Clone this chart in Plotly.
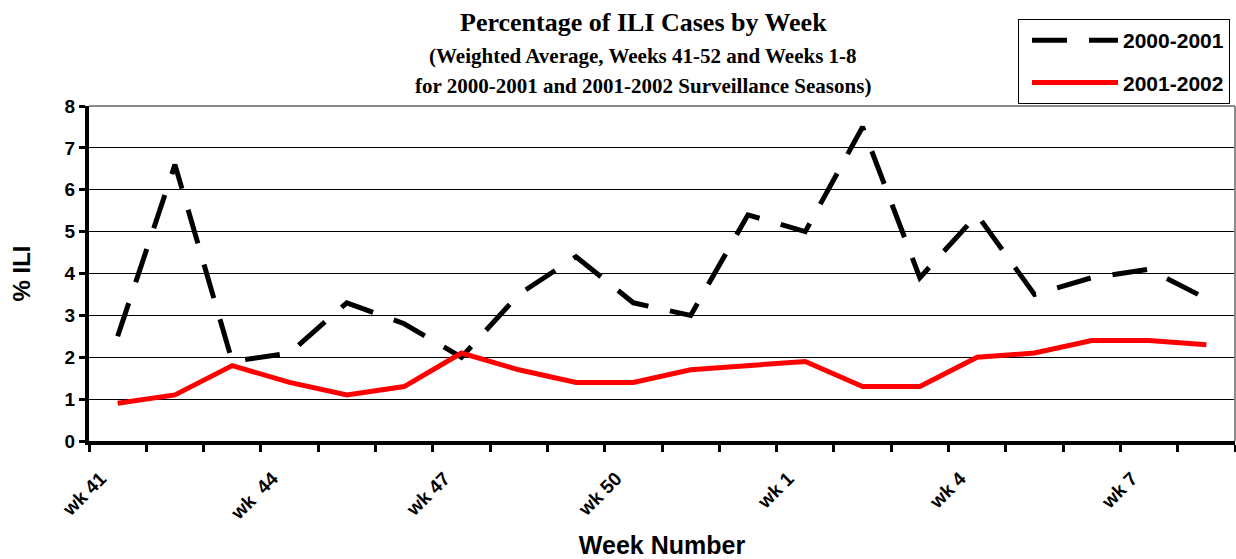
import plotly.graph_objects as go

weeks = ["wk 41", "wk 42", "wk 43", "wk 44", "wk 45", "wk 46", "wk 47", "wk 48", "wk 49", "wk 50",
         "wk 51", "wk 52", "wk 1", "wk 2", "wk 3", "wk 4", "wk 5", "wk 6", "wk 7", "wk 8"]
tick_labels = ["wk 41", "", "", "wk \u00a044", "", "", "wk 47", "", "", "wk 50",
               "", "", "wk 1", "", "", "wk 4", "", "", "wk 7", ""]
season_2000 = [2.5, 6.6, 1.9, 2.1, 3.3, 2.8, 2.0, 3.5, 4.4, 3.3,
               3.0, 5.4, 5.0, 7.5, 3.9, 5.4, 3.5, 3.9, 4.1, 3.4]
season_2001 = [0.9, 1.1, 1.8, 1.4, 1.1, 1.3, 2.1, 1.7, 1.4, 1.4,
               1.7, 1.8, 1.9, 1.3, 1.3, 2.0, 2.1, 2.4, 2.4, 2.3]
y_ticks = [0, 1, 2, 3, 4, 5, 6, 7, 8]

AR = "Liberation Sans, Arial, sans-serif"
TR = "Liberation Serif, Times New Roman, serif"

fig = go.Figure()
fig.add_trace(go.Scatter(x=weeks, y=season_2000, mode="lines", name="2000-2001",
                         legendgroup="a",
                         line=dict(color="black", width=5, dash="35px,22px")))
fig.add_trace(go.Scatter(x=weeks, y=season_2001, mode="lines", name="2001-2002",
                         legendgroup="b",
                         line=dict(color="#ff0000", width=5)))

W, H = 1236, 559
L, R, T, B = 89, 1, 106, 118
pw, ph = W - L - R, H - T - B

def px(xp):
    return (xp - L) / pw

def py(yp):
    return (H - B - yp) / ph

fig.update_layout(
    width=W, height=H,
    margin=dict(l=L, r=R, t=T, b=B, autoexpand=False),
    paper_bgcolor="white", plot_bgcolor="white",
    showlegend=True,
    legend=dict(x=px(1018), y=py(19), xanchor="left", yanchor="top",
                bordercolor="black", borderwidth=1, bgcolor="white",
                font=dict(family=AR, size=21, color="black", weight="bold"),
                itemwidth=86, tracegroupgap=12, traceorder="grouped", indentation=8),
    xaxis=dict(type="category", categoryorder="array", categoryarray=weeks,
               tickvals=weeks, ticktext=tick_labels, tickangle=-45,
               tickson="boundaries", ticks="outside", ticklen=7, tickwidth=3,
               tickcolor="black", showline=True, linecolor="black", linewidth=4,
               showgrid=False, range=[-0.5, 19.5], automargin=False,
               ticklabelshift=-17, ticklabelstandoff=15,
               tickfont=dict(family=AR, size=19, color="black", weight="bold"),
               title=dict(text="Week Number",
                          font=dict(family=AR, size=25, color="black", weight="bold"),
                          standoff=15)),
    yaxis=dict(range=[0, 8], tickvals=y_ticks, ticks="outside", ticklen=6, tickwidth=3,
               tickcolor="black", showline=True, linecolor="black", linewidth=4,
               showgrid=True, gridcolor="black", gridwidth=1, zeroline=False,
               automargin=False,
               tickfont=dict(family=AR, size=19, color="black", weight="bold"),
               title=dict(text="% ILI",
                          font=dict(family=AR, size=24, color="black", weight="bold"),
                          standoff=28)),
    font=dict(family=AR, size=16, color="black"),
)

# plot area border (top and right) in grey
fig.add_shape(type="line", xref="paper", yref="paper", x0=0, x1=1, y0=1, y1=1,
              line=dict(color="#8c8c8c", width=2))
fig.add_shape(type="line", xref="paper", yref="paper", x0=1, x1=1, y0=0, y1=1,
              line=dict(color="#8c8c8c", width=2))

cx = px(643)
fig.add_annotation(text="Percentage of ILI Cases by Week", xref="paper", yref="paper",
                   x=cx, y=py(22), showarrow=False, xanchor="center", yanchor="middle",
                   font=dict(family=TR, size=26, color="black", weight="bold"))
fig.add_annotation(text="(Weighted Average, Weeks 41-52 and Weeks 1-8", xref="paper", yref="paper",
                   x=cx, y=py(56), showarrow=False, xanchor="center", yanchor="middle",
                   font=dict(family=TR, size=21, color="black", weight="bold"))
fig.add_annotation(text="for 2000-2001 and 2001-2002 Surveillance Seasons)", xref="paper", yref="paper",
                   x=cx, y=py(86), showarrow=False, xanchor="center", yanchor="middle",
                   font=dict(family=TR, size=21, color="black", weight="bold"))

fig.write_html("out.html", config={"displayModeBar": False},
               post_script="document.body.style.margin='0';")
